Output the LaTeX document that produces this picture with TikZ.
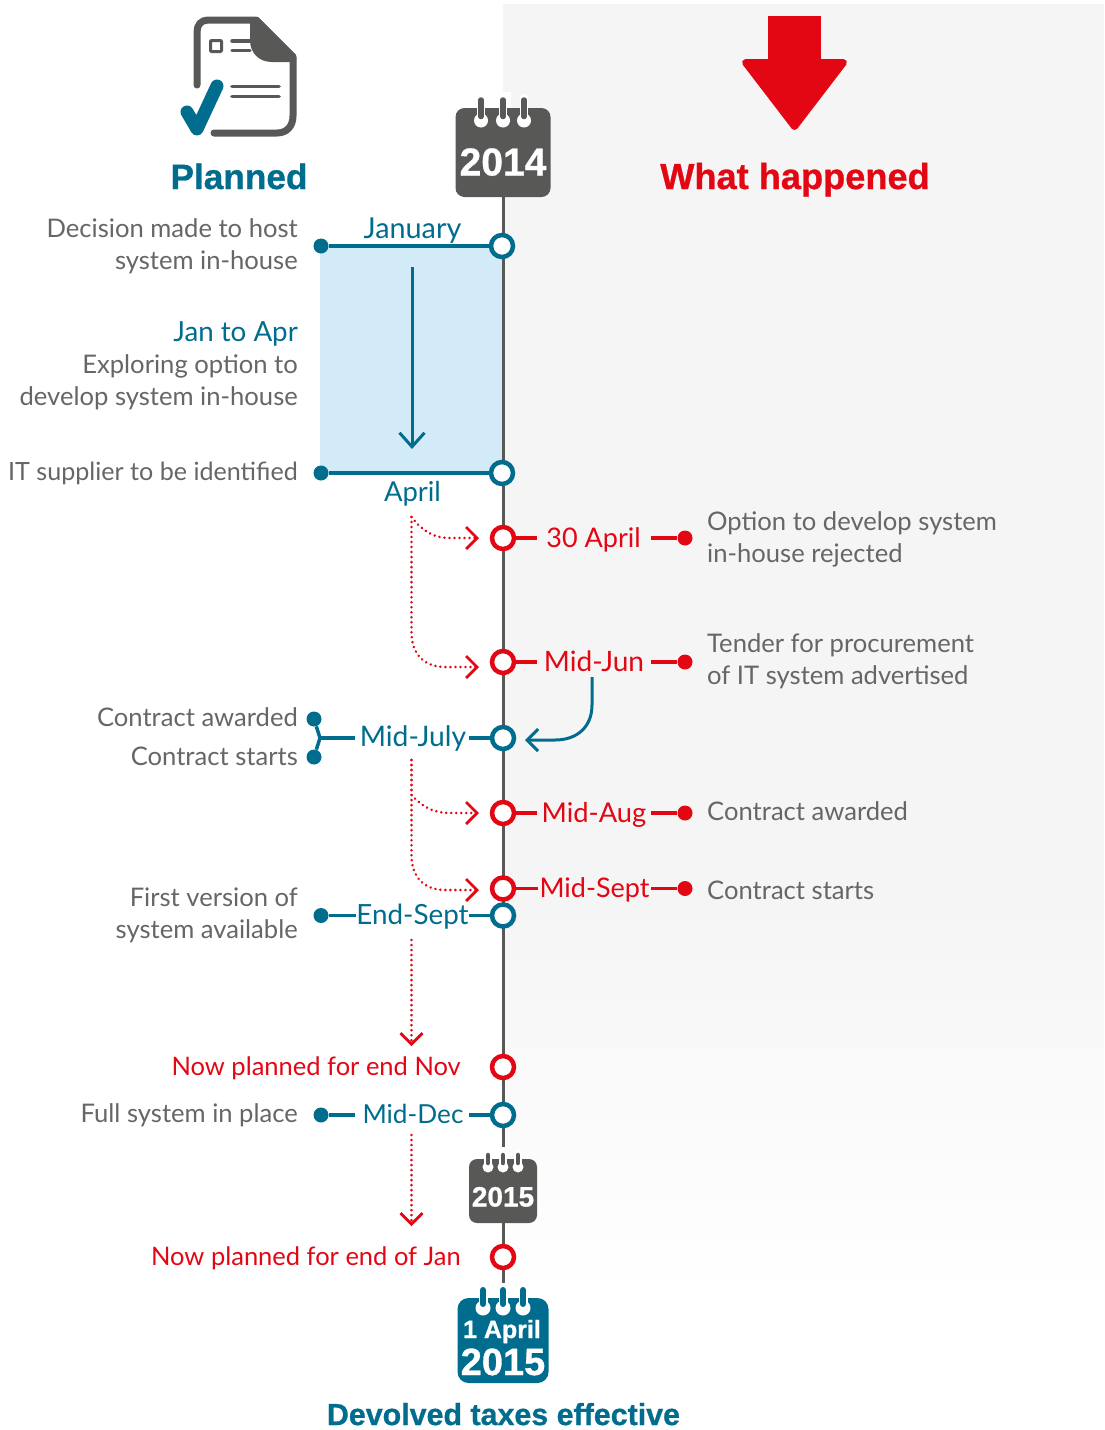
\documentclass[tikz,border=0pt]{standalone}
\usepackage{fontspec}
\setmainfont{Lato}
\newfontfamily\headfont[BoldFeatures={FakeBold=0.8}]{Liberation Sans}
\usetikzlibrary{arrows.meta}
\definecolor{teal0}{HTML}{006C8E}
\definecolor{red0}{HTML}{E30613}
\definecolor{gray0}{HTML}{585857}
\definecolor{txt0}{HTML}{666666}
\definecolor{panel0}{HTML}{F5F5F5}
\definecolor{blue0}{HTML}{D3EAF9}
\tikzset{
 descr/.style={inner sep=0pt,yshift=0.8pt,font=\fontsize{25.6}{32}\selectfont,text=txt0},
 lblT/.style={inner sep=0pt,font=\fontsize{#1}{32}\selectfont,text=teal0},
 lblR/.style={inner sep=0pt,font=\fontsize{#1}{32}\selectfont,text=red0},
 head/.style={inner sep=0pt,font=\headfont\bfseries\fontsize{#1}{#1}\selectfont},
 ringT/.style={circle,draw=teal0,line width=4.5pt,fill=white,minimum size=22pt,inner sep=0pt},
 ringR/.style={circle,draw=red0,line width=4.5pt,fill=white,minimum size=22pt,inner sep=0pt},
 dotT/.style={circle,fill=teal0,minimum size=15pt,inner sep=0pt},
 dotR/.style={circle,fill=red0,minimum size=15pt,inner sep=0pt},
 stubT/.style={teal0,line width=3.5pt},
 stubR/.style={red0,line width=3.5pt},
 dots/.style={red0,line width=2.8pt,line cap=round,dash pattern=on 0.01pt off 5pt,
   -{Straight Barb[length=11pt,width=22pt,line width=2.8pt,line cap=butt]}},
 calbox/.style={rounded corners=#1,inner sep=0pt},
 spine/.style={gray0,line width=3pt},
 doc/.style={gray0,line cap=round,line join=round},
}
\newcommand{\calring}[6]{% x, top, circle y, radius, bar width, colour
 \draw[white,line width=#5pt+3pt,line cap=round] (#1,#2) -- (#1,#3);
 \fill[white] (#1,#3) circle[radius=#4];
 \draw[#6,line width=#5pt,line cap=round] (#1,#2+2) -- (#1,#3-4);
}
\begin{document}
\begin{tikzpicture}[x=1pt,y=-1pt]
\useasboundingbox (0,0) rectangle (1104,1430);
% panel
\fill[panel0] (503,4) rectangle (1104,900);
\shade[top color=panel0,bottom color=white] (503,900) rectangle (1104,1300);
\fill[white] (503,92) rectangle (511,108);
\fill[blue0] (320,246) rectangle (503,473);

% named anchor points
\coordinate (spA) at (503,197);
\coordinate (spB) at (503,1147);
\coordinate (spC) at (503,1223);
\coordinate (spD) at (503,1283);
\draw[spine] (spA) -- (spB);
\draw[spine] (spC) -- (spD);

% document icon
\draw[doc,line width=7pt] (197,85) -- (197,32) .. controls (197,25) and (201,20) .. (208,20) -- (256,20) -- (293,57) -- (293,116) .. controls (293,126) and (287,133) .. (277,133) -- (214,133);
\fill[gray0] (250,17) -- (258,17) -- (296,55) -- (296,62) -- (272,62) .. controls (258,62) and (250,52) .. (250,40) -- cycle;
\draw[gray0,line width=3pt,rounded corners=1pt] (210.5,40.5) rectangle (221.5,51.5);
\draw[doc,line width=3.4pt] (232,41) -- (250,41) (232,50.5) -- (250,50.5);
\draw[doc,line width=3.8pt] (232,86.5) -- (279,86.5) (232,96.5) -- (279,96.5);
\draw[teal0,line width=13pt,line cap=round,line join=round] (187,112) -- (197,129) -- (217,86);

% down arrow
\fill[red0] (768,16) rectangle (821,66);
\fill[red0,draw=red0,line width=7pt,line join=round] (818,62.5) -- (843.5,62.5) -- (794.5,126.5) -- (745.5,62.5) -- cycle;

% headings
\node[head=35.2,text=teal0,anchor=base] (planned) at (239,189) {Planned};
\node[head=36.2,text=red0,anchor=base] (happened) at (795,189) {What happened};
\node[head=30.4,text=teal0,anchor=base] (devolved) at (503.5,1425) {Devolved taxes effective};

% calendars
\node[calbox=9pt,fill=gray0,minimum width=95pt,minimum height=89pt] (cal14) at (503,152.5) {};
\foreach \cx in {481,503,524} {\calring{\cx}{98}{120.5}{7}{5.5}{gray0}}
\node[head=39,text=white,anchor=base] (t14) at (503,175.5) {2014};
\node[calbox=8pt,fill=gray0,minimum width=68pt,minimum height=64pt] (cal15) at (503,1191) {};
\foreach \cx in {488,503,518} {\calring{\cx}{1153}{1167}{5.5}{4.5}{gray0}}
\node[head=28,text=white,anchor=base] (t15) at (503,1206.5) {2015};
\node[calbox=11pt,fill=teal0,minimum width=91pt,minimum height=85pt] (calA) at (503,1340.5) {};
\foreach \cx in {483,503,523} {\calring{\cx}{1288}{1308}{7.5}{6}{teal0}}
\node[head=25,text=white,anchor=base] (tA1) at (502,1338) {1 April};
\node[head=38,text=white,anchor=base] (tA2) at (503,1375) {2015};

% timeline rings
\node[ringT] (rJan) at (502,246) {};
\node[ringT] (rApr) at (502,473) {};
\node[ringR] (r30) at (503,538) {};
\node[ringR] (rJun) at (503,662) {};
\node[ringT] (rJul) at (503,738) {};
\node[ringR] (rAug) at (503,813) {};
\node[ringR] (rSep) at (503,888.5) {};
\node[ringT] (rEnd) at (503,915.5) {};
\node[ringR] (rNov) at (503,1067) {};
\node[ringT] (rDec) at (503,1115) {};
\node[ringR] (rJ15) at (503,1257) {};

% dots
\node[dotT] (dJan) at (321,246) {};
\node[dotT] (dApr) at (321,473) {};
\node[dotR] (d30) at (685,538) {};
\node[dotR] (dJun) at (685,662) {};
\node[dotT] (dJulA) at (314,719) {};
\node[dotT] (dJulB) at (314,757) {};
\node[dotR] (dAug) at (685,813) {};
\node[dotR] (dSep) at (685,888.5) {};
\node[dotT] (dEnd) at (321,915.5) {};
\node[dotT] (dDec) at (321,1115) {};

% month labels
\node[lblT=28.8,anchor=base] (mJan) at (412.5,238) {January};
\node[lblT=27.4,anchor=base] (mApr) at (412.5,501) {April};
\node[lblR=27,anchor=base] (m30) at (593.5,547) {30 April};
\node[lblR=28.1,anchor=base] (mJun) at (594,671) {Mid-Jun};
\node[lblT=28.3,anchor=base] (mJul) at (413,746) {Mid-July};
\node[lblR=27.3,anchor=base] (mAug) at (594,822) {Mid-Aug};
\node[lblR=27,anchor=base] (mSep) at (594.5,897) {Mid-Sept};
\node[lblT=27.8,anchor=base] (mEnd) at (412.5,924) {End-Sept};
\node[lblT=26.2,anchor=base] (mDec) at (413,1123) {Mid-Dec};

% left descriptions
\node[descr,anchor=base east,align=right] (lA) at (298,270) {Decision made to host\\system in-house};
\node[descr,anchor=base east,align=right] (lB) at (298,406) {{\color{teal0}\fontsize{27.7}{32}\selectfont Jan to Apr}\\Exploring option to\\develop system in-house};
\node[descr,anchor=base east,font=\fontsize{25.1}{32}\selectfont] (lC) at (298,481) {IT supplier to be identified};
\node[descr,anchor=base east] (lD) at (298,727) {Contract awarded};
\node[descr,anchor=base east] (lE) at (298,766) {Contract starts};
\node[descr,anchor=base east,align=right] (lF) at (298,939) {First version of\\system available};
\node[descr,anchor=base east] (lG) at (298,1123) {Full system in place};
\node[lblR=25.5,anchor=base east,yshift=0.8pt] (lH) at (461,1076) {Now planned for end Nov};
\node[lblR=25.5,anchor=base east,yshift=0.8pt] (lI) at (461,1266) {Now planned for end of Jan};

% right descriptions
\node[descr,anchor=base west,align=left] (rA) at (707,563) {Option to develop system\\in-house rejected};
\node[descr,anchor=base west,align=left] (rB) at (707,685) {Tender for procurement\\of IT system advertised};
\node[descr,anchor=base west] (rC) at (707,821) {Contract awarded};
\node[descr,anchor=base west] (rD) at (707,900) {Contract starts};

% free ends
\coordinate (c30a) at (537,538);   \coordinate (c30b) at (651,538);
\coordinate (cJuna) at (537,662);  \coordinate (cJunb) at (651,662);
\coordinate (cAuga) at (537,813);  \coordinate (cAugb) at (651,813);
\coordinate (cSepa) at (538,888.5);  \coordinate (cSepb) at (651,888.5);
\coordinate (cJula) at (469,738);  \coordinate (cJulb) at (355,738);
\coordinate (cY) at (320,738);
\coordinate (cEnda) at (469,915.5);  \coordinate (cEndb) at (356,915.5);
\coordinate (cDeca) at (469,1115); \coordinate (cDecb) at (355,1115);

% connectors
\draw[stubT] (dJan) -- (rJan);
\draw[stubT] (dApr) -- (rApr);
\draw[stubR] (r30) -- (c30a);  \draw[stubR] (c30b) -- (d30);
\draw[stubR] (rJun) -- (cJuna); \draw[stubR] (cJunb) -- (dJun);
\draw[stubR] (rAug) -- (cAuga); \draw[stubR] (cAugb) -- (dAug);
\draw[stubR] (rSep) -- (cSepa); \draw[stubR] (cSepb) -- (dSep);
\draw[stubT] (cJula) -- (rJul);
\draw[stubT] (cJulb) -- (cY);
\draw[stubT] (dJulA) -- (cY) -- (dJulB);
\draw[stubT] (dEnd) -- (cEndb); \draw[stubT] (cEnda) -- (rEnd);
\draw[stubT] (dDec) -- (cDecb); \draw[stubT] (cDeca) -- (rDec);

% Jan to Apr arrow
\coordinate (aS) at (412,267); \coordinate (aE) at (412,449);
\draw[teal0,line width=3pt,-{Straight Barb[length=14pt,width=25pt,line width=3pt]}] (aS) -- (aE);

% Mid-Jun to Mid-July
\coordinate (bS) at (592,677); \coordinate (bE) at (525,740);
\draw[teal0,line width=3pt,-{Straight Barb[length=11pt,width=22pt,line width=3pt]}] (bS) -- (592,705) .. controls (592,727) and (577,740) .. (555,740) -- (bE);

% dotted slips
\coordinate (s1) at (411.5,517); \coordinate (e1) at (479,538);
\coordinate (e2) at (479,667);
\draw[dots] (s1) .. controls (422,530) and (432,538) .. (450,538) -- (e1);
\draw[dots] (s1) -- (411.5,632) .. controls (411.5,655) and (425,667) .. (445,667) -- (e2);
\coordinate (s2) at (411.5,760); \coordinate (e3) at (479,813);
\coordinate (e4) at (479,890);
\draw[dots] (s2) -- (411.5,795) .. controls (422,806) and (432,813) .. (450,813) -- (e3);
\draw[dots] (s2) -- (411.5,855) .. controls (411.5,878) and (425,890) .. (445,890) -- (e4);
\coordinate (s3) at (411.5,940); \coordinate (e5) at (411.5,1046);
\draw[dots] (s3) -- (e5);
\coordinate (s4) at (411.5,1135); \coordinate (e6) at (411.5,1226);
\draw[dots] (s4) -- (e6);
\end{tikzpicture}
\end{document}
